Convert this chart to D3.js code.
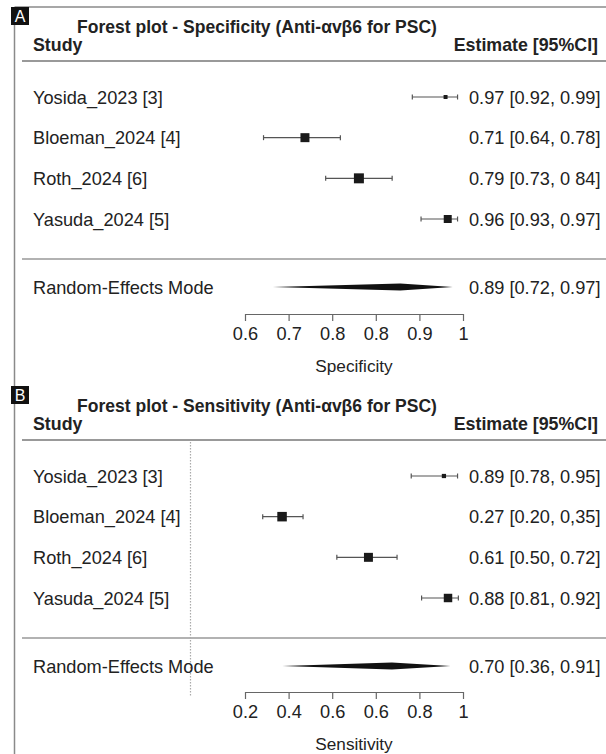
<!DOCTYPE html>
<html>
<head>
<meta charset="utf-8">
<script src="https://cdn.jsdelivr.net/npm/d3@7"></script>
<style>
  html, body { margin: 0; padding: 0; background: #fff; }
  svg { display: block; font-family: "Liberation Sans", Arial, sans-serif; }
</style>
</head>
<body>
<svg id="chart" width="606" height="754"></svg>
<script>
// ---------------- DATA ----------------
const studies = ["Yosida_2023 [3]", "Bloeman_2024 [4]", "Roth_2024 [6]", "Yasuda_2024 [5]"];
const pooledName = "Random-Effects Mode";

const specEst = [0.968, 0.710, 0.809, 0.972];
const specLo  = [0.907, 0.634, 0.748, 0.923];
const specHi  = [0.990, 0.775, 0.870, 0.990];
const specWeights = [6.1, 31.0, 38.3, 24.5];
const specLabels = ["0.97 [0.92, 0.99]", "0.71 [0.64, 0.78]", "0.79 [0.73, 0 84]", "0.96 [0.93, 0.97]"];
const specPooled = [0.651, 0.885, 0.981];          // lower, estimate, upper
const specPooledLabel = "0.89 [0.72, 0.97]";
const specTickValues = [0.6, 0.68, 0.76, 0.84, 0.92, 1.0];
const specTickLabels = ["0.6", "0.7", "0.8", "0.8", "0.9", "1"];

// Panel B - Sensitivity
const sensEst = [0.930, 0.336, 0.653, 0.945];
const sensLo  = [0.810, 0.265, 0.537, 0.848];
const sensHi  = [0.980, 0.413, 0.758, 0.983];
const sensWeights = [6.9, 34.8, 30.9, 27.5];
const sensLabels = ["0.89 [0.78, 0.95]", "0.27 [0.20, 0,35]", "0.61 [0.50, 0.72]", "0.88 [0.81, 0.92]"];
const sensPooled = [0.337, 0.739, 0.954];
const sensPooledLabel = "0.70 [0.36, 0.91]";
const sensTickValues = [0.2, 0.36, 0.52, 0.68, 0.84, 1.0];
const sensTickLabels = ["0.2", "0.4", "0.6", "0.6", "0.8", "1"];
const sensRefLine = 0;

// ---------------- DRAW ----------------
const svg = d3.select("#chart");
const TXT = "#222";
const FS = 18.2;   // regular text
const FB = 17.8;   // bold headers

// outer frame
svg.append("line").attr("x1", 14.5).attr("x2", 606).attr("y1", 7).attr("y2", 7)
  .attr("stroke", "#8a8a8a").attr("stroke-width", 1.5);
svg.append("line").attr("x1", 14.5).attr("x2", 14.5).attr("y1", 7).attr("y2", 754)
  .attr("stroke", "#8a8a8a").attr("stroke-width", 1.5);

function drawPanel(o) {
  const g = svg.append("g").attr("transform", `translate(0,${o.top})`);
  const x = d3.scaleLinear().domain(o.domain).range([245, 463]);
  const y = d3.scalePoint().domain(studies).range([90, 212]);
  const size = d3.scaleSqrt().domain([0, 40]).range([0, 10.2]);

  // panel letter
  g.append("rect").attr("x", 11).attr("y", 0).attr("width", 18).attr("height", 18).attr("fill", "#111");
  g.append("text").attr("x", 20).attr("y", 15).attr("text-anchor", "middle")
    .attr("fill", "#fff").attr("font-size", 16).text(o.letter);

  // title
  g.append("text").attr("x", 257).attr("y", 26).attr("text-anchor", "middle")
    .attr("font-weight", "bold").attr("font-size", 17.5).attr("fill", TXT).text(o.title);
  g.append("text").attr("x", 33).attr("y", 44).attr("font-weight", "bold")
    .attr("font-size", FB).attr("fill", TXT).text("Study");
  g.append("text").attr("x", 598).attr("y", 44).attr("text-anchor", "end").attr("font-weight", "bold")
    .attr("font-size", FB).attr("fill", TXT).text("Estimate [95%CI]");

  // header and separator lines
  g.append("line").attr("x1", 22).attr("x2", 606).attr("y1", 54).attr("y2", 54)
    .attr("stroke", "#999").attr("stroke-width", 2);
  g.append("line").attr("x1", 22).attr("x2", 606).attr("y1", 252).attr("y2", 252)
    .attr("stroke", "#999").attr("stroke-width", 1.5);

  // reference line
  if (o.ref !== undefined) {
    g.append("line").attr("x1", x(o.ref)).attr("x2", x(o.ref)).attr("y1", 56).attr("y2", 310)
      .attr("stroke", "#aaa").attr("stroke-width", 1.2).attr("stroke-dasharray", "1.5,1.5");
  }

  const rows = studies.map((s, i) => ({ s, est: o.est[i], lo: o.lo[i], hi: o.hi[i], w: o.w[i], lab: o.labels[i] }));

  // study labels
  g.selectAll(".sl").data(rows).enter().append("text")
    .attr("x", 33).attr("y", d => y(d.s)).attr("dy", "0.36em")
    .attr("font-size", FS).attr("fill", TXT).text(d => d.s);
  g.selectAll(".el").data(rows).enter().append("text")
    .attr("x", 469).attr("y", d => y(d.s)).attr("dy", "0.36em")
    .attr("font-size", FS).attr("fill", TXT).text(d => d.lab);

  // whiskers
  g.selectAll(".ci").data(rows).enter().append("line")
    .attr("x1", d => x(d.lo)).attr("x2", d => x(d.hi))
    .attr("y1", d => y(d.s)).attr("y2", d => y(d.s))
    .attr("stroke", "#555").attr("stroke-width", 1.2);
  ["lo", "hi"].forEach(k => {
    g.selectAll(".cap" + k).data(rows).enter().append("line")
      .attr("x1", d => x(d[k])).attr("x2", d => x(d[k]))
      .attr("y1", d => y(d.s) - 2.5).attr("y2", d => y(d.s) + 2.5)
      .attr("stroke", "#555").attr("stroke-width", 1.2);
  });
  // boxes
  g.selectAll(".bx").data(rows).enter().append("rect")
    .attr("x", d => x(d.est) - size(d.w) / 2).attr("y", d => y(d.s) - size(d.w) / 2)
    .attr("width", d => size(d.w)).attr("height", d => size(d.w))
    .attr("fill", "#1a1a1a");

  // pooled
  const py = 280;
  g.append("text").attr("x", 33).attr("y", py).attr("dy", "0.36em")
    .attr("font-size", FS).attr("fill", TXT).text(pooledName);
  g.append("text").attr("x", 469).attr("y", py).attr("dy", "0.36em")
    .attr("font-size", FS).attr("fill", TXT).text(o.pooledLabel);
  const [plo, pest, phi] = o.pooled;
  g.append("path")
    .attr("d", `M${x(plo)},${py} L${x(pest)},${py - 3.5} L${x(phi)},${py} L${x(pest)},${py + 3.5} Z`)
    .attr("fill", "#111");

  // axis
  const axis = d3.axisBottom(x).tickValues(o.tickValues)
    .tickFormat((d, i) => o.tickLabels[i]).tickSize(7).tickSizeOuter(0).tickPadding(6);
  const ag = g.append("g").attr("transform", `translate(0,${o.axisY})`).call(axis);
  ag.select(".domain").attr("stroke", "#666").attr("stroke-width", 1.2);
  ag.selectAll(".tick line").attr("stroke", "#666").attr("stroke-width", 1.2);
  ag.selectAll(".tick text").attr("font-size", FS).attr("fill", TXT)
    .attr("font-family", "Liberation Sans, Arial, sans-serif");
  g.append("text").attr("x", x(o.domain[0] + (o.domain[1] - o.domain[0]) / 2)).attr("y", o.axisY + 58)
    .attr("text-anchor", "middle").attr("font-size", FS - 1).attr("fill", TXT).text(o.axisTitle);
}

drawPanel({
  top: 7, letter: "A", title: "Forest plot - Specificity (Anti-\u03b1v\u03b26 for PSC)",
  domain: [0.6, 1.0], est: specEst, lo: specLo, hi: specHi, w: specWeights, labels: specLabels,
  pooled: specPooled, pooledLabel: specPooledLabel,
  tickValues: specTickValues, tickLabels: specTickLabels, axisY: 307, axisTitle: "Specificity"
});
drawPanel({
  top: 386, letter: "B", title: "Forest plot - Sensitivity (Anti-\u03b1v\u03b26 for PSC)",
  domain: [0.2, 1.0], est: sensEst, lo: sensLo, hi: sensHi, w: sensWeights, labels: sensLabels,
  pooled: sensPooled, pooledLabel: sensPooledLabel, ref: sensRefLine,
  tickValues: sensTickValues, tickLabels: sensTickLabels, axisY: 306, axisTitle: "Sensitivity"
});
</script>
</body>
</html>
